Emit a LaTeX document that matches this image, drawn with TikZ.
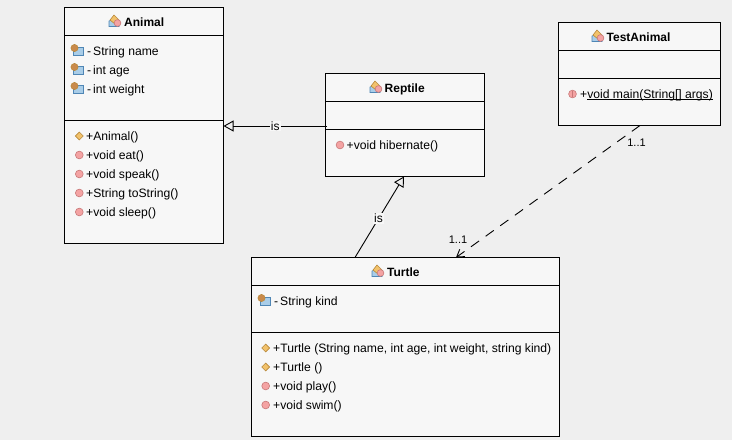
\documentclass[tikz,border=0pt]{standalone}
\usepackage{fontspec}
\setmainfont{Liberation Sans}
\usetikzlibrary{arrows.meta}
\definecolor{bgcol}{HTML}{EFEFEF}
\definecolor{boxcol}{HTML}{F7F7F7}
\definecolor{pinkcol}{HTML}{F4A3A3}
\definecolor{pinkline}{HTML}{C87878}
\definecolor{orangecol}{HTML}{F2C26B}
\definecolor{orangeline}{HTML}{B8893A}
\definecolor{bluecol}{HTML}{A9CDE8}
\definecolor{blueline}{HTML}{4F86B5}
\definecolor{headcol}{HTML}{C98A4B}
\tikzset{
	umlbox/.style={draw=black,fill=boxcol,line width=1pt,minimum width=#1,inner sep=0pt,outer sep=0pt,anchor=north west},
	boxline/.style={black,line width=1pt},
	title/.style={anchor=base west,inner sep=0pt,font=\fontsize{12}{14}\selectfont\bfseries},
	member/.style={anchor=base west,inner sep=0pt,font=\fontsize{12.15}{14}\selectfont},
	linklabel/.style={fill=boxcol,inner sep=1pt,font=\fontsize{12}{14}\selectfont},
	multlabel/.style={inner sep=0pt,font=\fontsize{11}{14}\selectfont},
	isa/.style={black,line width=0.9pt,-{Triangle[open,length=10,width=11]}},
	uses/.style={black,line width=0.9pt,dash pattern=on 10pt off 8pt,-{Straight Barb[length=7,width=9]}},
	pics/methodicon/.style={code={
		\fill[pinkcol,draw=pinkline,line width=0.6pt] (0,0) circle[radius=3.9];
	}},
	pics/staticicon/.style={code={
		\fill[pinkcol,draw=pinkline,line width=0.6pt] (0,0) circle[radius=3.9];
		\draw[pinkline,line width=1.2pt] (0,-3.4) -- (0,3.4);
	}},
	pics/ctoricon/.style={code={
		\fill[orangecol,draw=orangeline,line width=0.6pt] (-3.9,0) -- (0,-3.9) -- (3.9,0) -- (0,3.9) -- cycle;
	}},
	pics/fieldicon/.style={code={
		\fill[bluecol,draw=blueline,line width=0.7pt] (-3,-3) rectangle (7,5);
		\fill[headcol,draw=orangeline,line width=0.5pt] (-1.5,-2) circle[radius=3.6];
	}},
	pics/classicon/.style={code={
		\fill[bluecol,draw=blueline,line width=0.6pt] (-6,5.5) -- (-6,0) -- (-1,-2) -- (4,5.5) -- cycle;
		\fill[orangecol,draw=orangeline,line width=0.6pt] (-5,-1) -- (-1,-6) -- (4,-1) -- (0,3) -- cycle;
		\fill[pinkcol,draw=pinkline,line width=0.6pt] (2.5,2) circle[radius=3.4];
	}}
}
\newcommand{\priv}[1]{-\kern2pt #1}
\begin{document}
\begin{tikzpicture}[x=1pt,y=-1pt]
	\fill[bgcol] (0,0) rectangle (732,440);
	\useasboundingbox (0,0) rectangle (732,440);
	% Animal
	\node[umlbox=159pt,minimum height=236pt] (Animal) at (64.5,7.5) {};
	\draw[boxline] (64.5,35.5) -- (223.5,35.5);
	\draw[boxline] (64.5,120.5) -- (223.5,120.5);
	\pic at (115,21) {classicon};
	\node[title] (AnimalT) at (124,26) {Animal};
	\pic at (76,50) {fieldicon};
	\pic at (76,69) {fieldicon};
	\pic at (76,88) {fieldicon};
	\node[member] (AnimalF1) at (87,55) {\priv{String name}};
	\node[member] (AnimalF2) at (87,74) {\priv{int age}};
	\node[member] (AnimalF3) at (87,93) {\priv{int weight}};
	\pic at (79.3,136) {ctoricon};
	\pic at (79.3,155) {methodicon};
	\pic at (79.3,174) {methodicon};
	\pic at (79.3,193) {methodicon};
	\pic at (79.3,212) {methodicon};
	\node[member] (AnimalM1) at (86,140) {+Animal()};
	\node[member] (AnimalM2) at (86,159) {+void eat()};
	\node[member] (AnimalM3) at (86,178) {+void speak()};
	\node[member] (AnimalM4) at (86,197) {+String toString()};
	\node[member] (AnimalM5) at (86,216) {+void sleep()};
	% Reptile
	\node[umlbox=159pt,minimum height=103pt] (Reptile) at (325.5,73.5) {};
	\draw[boxline] (325.5,101.5) -- (484.5,101.5);
	\draw[boxline] (325.5,129.5) -- (484.5,129.5);
	\pic at (376,87) {classicon};
	\node[title] (ReptileT) at (384.5,92) {Reptile};
	\pic at (340,145) {methodicon};
	\node[member] (ReptileM1) at (346.5,149) {+void hibernate()};
	% TestAnimal
	\node[umlbox=162pt,minimum height=103pt] (TestAnimal) at (558.5,22.5) {};
	\draw[boxline] (558.5,50.5) -- (720.5,50.5);
	\draw[boxline] (558.5,78.5) -- (720.5,78.5);
	\pic at (598,36) {classicon};
	\node[title] (TestAnimalT) at (606.5,41) {TestAnimal};
	\pic at (572.5,94) {staticicon};
	\node[member] (TestAnimalM1) at (580,98) {+\underline{\smash{void main(String[] args)}}};
	% Turtle
	\node[umlbox=308pt,minimum height=179pt] (Turtle) at (251.5,257.5) {};
	\draw[boxline] (251.5,285.5) -- (559.5,285.5);
	\draw[boxline] (251.5,332.5) -- (559.5,332.5);
	\pic at (378,271) {classicon};
	\node[title] (TurtleT) at (387,276) {Turtle};
	\pic at (263,300) {fieldicon};
	\node[member] (TurtleF1) at (274,305) {\priv{String kind}};
	\pic at (265.7,348) {ctoricon};
	\pic at (265.7,367) {ctoricon};
	\pic at (265.7,386) {methodicon};
	\pic at (265.7,405) {methodicon};
	\node[member] (TurtleM1) at (273,352) {+Turtle (String name, int age, int weight, string kind)};
	\node[member] (TurtleM2) at (273,371) {+Turtle ()};
	\node[member] (TurtleM3) at (273,390) {+void play()};
	\node[member] (TurtleM4) at (273,409) {+void swim()};
	% conectores
	\coordinate (ReptileLeft) at (327,126);
	\coordinate (AnimalRight) at (223.5,126);
	\coordinate (ReptileBottom) at (404,176.5);
	\coordinate (TurtleTop) at (355,257.5);
	\coordinate (TestBottom) at (640,125.5);
	\coordinate (TurtleArrow) at (456,257.5);
	\draw[isa] (ReptileLeft) -- (AnimalRight) node[pos=0.5,linklabel] (IsOne) {is};
	\draw[isa] (TurtleTop) -- (ReptileBottom) node[pos=0.48,linklabel] (IsTwo) {is};
	\draw[uses] (TestBottom) -- (TurtleArrow);
	\node[multlabel] (MultTop) at (636.5,142.5) {1..1};
	\node[multlabel] (MultBottom) at (458,240) {1..1};
\end{tikzpicture}
\end{document}
